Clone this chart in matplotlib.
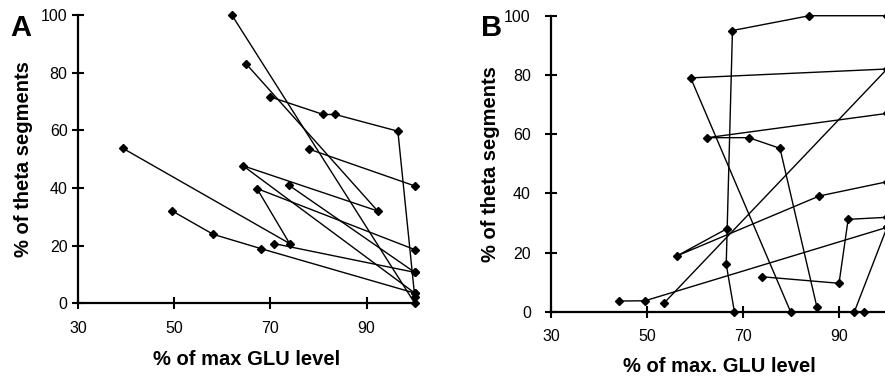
import matplotlib
matplotlib.use("Agg")
import matplotlib.pyplot as plt

plt.rcParams["font.family"] = ["Liberation Sans", "DejaVu Sans"]

# Panel A: one polyline per recording (x = % of max GLU, y = % theta segments)
a_x = [
    [62, 100],
    [65, 92.3, 64.3, 100],
    [70, 81, 83.5, 96.5, 100],
    [78, 100],
    [73.8, 100],
    [100, 67.2, 74, 39.4],
    [70.7, 100],
    [49.6, 58.1, 68.1, 100],
]
a_y = [
    [100, 0],
    [83, 32, 47.7, 3.5],
    [71.6, 65.5, 65.5, 59.7, 2.3],
    [53.5, 40.7],
    [41, 10.7],
    [18.6, 39.8, 20.7, 53.7],
    [20.7, 10.7],
    [32, 23.9, 18.9, 3.5],
]

# Panel B
b_x = [
    [100, 83.8, 67.8, 66.5, 68.2],
    [66.6, 56.3, 85.9, 100],
    [53.6, 100, 59.1, 79.9],
    [100, 62.6, 71.2, 77.7, 85.4],
    [44.2, 49.6, 100],
    [74, 90, 91.9, 100],
    [95.1, 93.2, 100],
]
b_y = [
    [100, 100, 95, 16, 0],
    [28, 18.9, 39.1, 43.9],
    [3, 82, 79, 0],
    [67, 58.8, 58.8, 55.2, 1.5],
    [3.6, 3.7, 28.5],
    [11.8, 9.6, 31.2, 31.9],
    [0, 0, 28.5],
]

x_ticks = [30, 50, 70, 90]
y_ticks = [0, 20, 40, 60, 80, 100]


def style_axes(ax, xlabel, xlab_y, ylab_x, ypad):
    for side in ("top", "right"):
        ax.spines[side].set_visible(False)
    for side in ("left", "bottom"):
        ax.spines[side].set_linewidth(1.6)
    ax.set_xlim(30, 100)
    ax.set_ylim(0, 100)
    ax.set_xticks(x_ticks)
    ax.set_yticks(y_ticks)
    ax.tick_params(axis="both", direction="inout", length=9, width=1.5,
                   labelsize=11.5)
    ax.tick_params(axis="x", pad=8)
    ax.tick_params(axis="y", pad=ypad)
    ax.set_xlabel(xlabel, fontsize=14.5, fontweight="bold")
    ax.set_ylabel("% of theta segments", fontsize=14.5, fontweight="bold")
    ax.xaxis.set_label_coords(0.5, xlab_y)
    ax.yaxis.set_label_coords(ylab_x, 0.5)


def draw(ax, xs, ys):
    for x, y in zip(xs, ys):
        ax.plot(x, y, color="black", linewidth=1.0, marker="D",
                markersize=4.5, clip_on=False)


fig = plt.figure(figsize=(8.85, 3.78), dpi=100)
ax_a = fig.add_axes([0.0881, 0.198, 0.3805, 0.762])
ax_b = fig.add_axes([0.6226, 0.1754, 0.3797, 0.783])

draw(ax_a, a_x, a_y)
draw(ax_b, b_x, b_y)

style_axes(ax_a, "% of max GLU level", -0.163, -0.134, 3)
style_axes(ax_b, "% of max. GLU level", -0.153, -0.152, 10)

fig.text(0.0237, 0.926, "A", fontsize=21, fontweight="bold",
         ha="center", va="center")
fig.text(0.555, 0.926, "B", fontsize=21, fontweight="bold",
         ha="center", va="center")

fig.savefig("out.png", dpi=100)
